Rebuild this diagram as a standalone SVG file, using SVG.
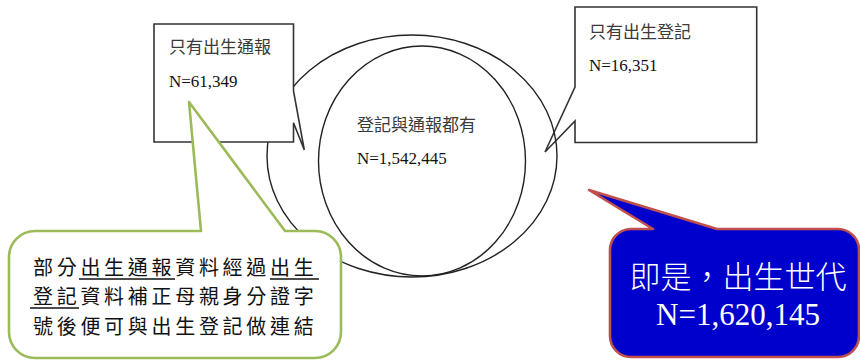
<svg xmlns="http://www.w3.org/2000/svg" width="860" height="360" viewBox="0 0 860 360">
<style>
.ell{fill:none;stroke:#222;stroke-width:1.4}
.box{fill:#fff;stroke:#333;stroke-width:1.6}
.cjk{font-family:"Noto Sans CJK TC","Noto Sans CJK SC",sans-serif}
.num{font-family:"Liberation Serif","Noto Sans CJK TC",serif}
.lbl{font-size:17px;fill:#3a3a3a}
.nlbl{font-size:17px;fill:#111}
.note{font-size:20px;fill:#111;letter-spacing:3.7px}
.ul{stroke:#111;stroke-width:1.6}
.big{font-size:31px;fill:#fff;text-anchor:middle}
.thin{font-weight:300}
</style>
<rect width="860" height="360" fill="#fff"/>
<g id="only-registration">
  <path class="box" d="M575,7 H756.7 V142.5 H575 V121 L545,152 L575,87 Z"/>
  <text class="cjk lbl" x="589" y="38">只有出生登記</text>
  <text class="num nlbl" x="589" y="71">N=16,351</text>
</g>
<g id="connectors">
  <ellipse class="ell" cx="412" cy="156" rx="145" ry="121"/>
  <ellipse class="ell" cx="422" cy="161" rx="103.5" ry="115"/>
</g>
<g id="venn-overlap">
  <text class="cjk lbl" x="357" y="131">登記與通報都有</text>
  <text class="num nlbl" x="357" y="164">N=1,542,445</text>
</g>
<g id="only-notification">
  <path class="box" d="M154,24 H293.5 V91 L304.3,150 L293.5,122.7 V142 H154 Z"/>
  <text class="cjk lbl" x="169" y="53">只有出生通報</text>
  <text class="num nlbl" x="169" y="87">N=61,349</text>
</g>
<g id="note">
  <path d="M35,231 H201 L189,102 L285,231 H315 A26,26 0 0 1 341,257 V332 A26,26 0 0 1 315,358 H35 A26,26 0 0 1 9,332 V257 A26,26 0 0 1 35,231 Z" fill="#fff" stroke="#9bbb59" stroke-width="2.6" stroke-linejoin="round"/>
  <text class="cjk note" x="33" y="275">部分出生通報資料經過出生</text>
  <text class="cjk note" x="33" y="304">登記資料補正母親身分證字</text>
  <text class="cjk note" x="33" y="334">號後便可與出生登記做連結</text>
  <line class="ul" x1="79" y1="279" x2="175" y2="279"/>
  <line class="ul" x1="270" y1="279" x2="319" y2="279"/>
  <line class="ul" x1="30" y1="308" x2="79" y2="308"/>
</g>
<g id="birth-cohort">
  <path d="M631,229 H653 L589,190 L717,229 H838 A21,21 0 0 1 859,250 V336 A21,21 0 0 1 838,357 H631 A21,21 0 0 1 610,336 V250 A21,21 0 0 1 631,229 Z" fill="#0000cc" stroke="#c0504d" stroke-width="2.6" stroke-linejoin="round"/>
  <text class="cjk big thin" x="738" y="288">即是，出生世代</text>
  <text class="num big" x="738" y="325">N=1,620,145</text>
</g>
</svg>
